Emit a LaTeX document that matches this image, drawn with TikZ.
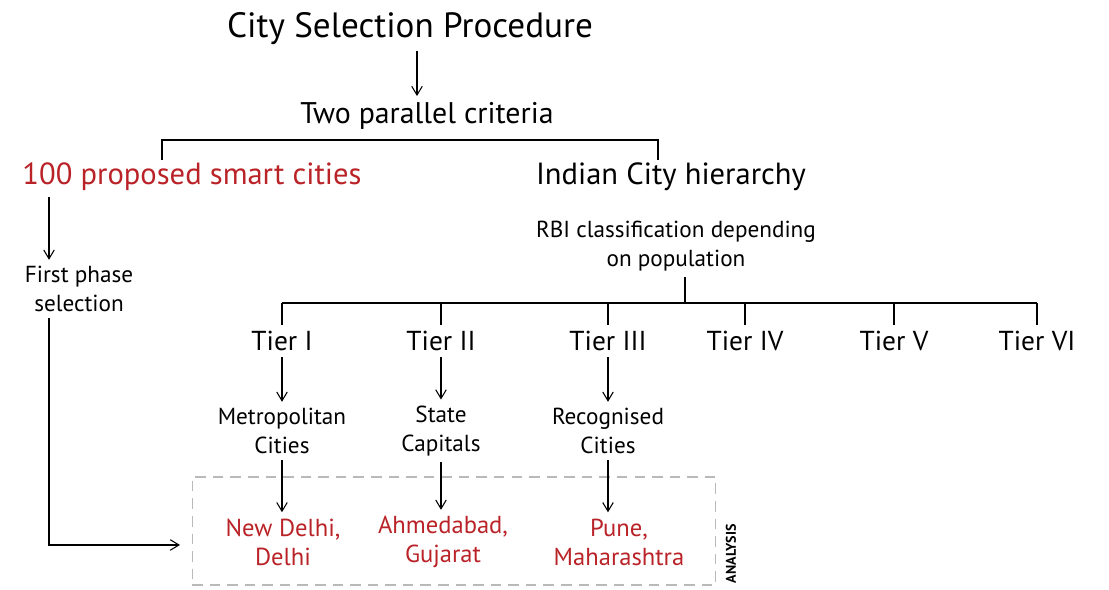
\documentclass[tikz,border=0pt]{standalone}
\usepackage{fontspec}
\setmainfont{PT Sans}
\usetikzlibrary{arrows.meta}
\definecolor{cityred}{RGB}{185,35,40}

\tikzset{
	headline/.style={font=\fontsize{20}{24}\selectfont},
	criterion/.style={font=\fontsize{17}{20}\selectfont},
	branch/.style={font=\fontsize{17.4}{21}\selectfont},
	tier/.style={font=\fontsize{15.6}{19}\selectfont},
	note/.style={font=\fontsize{13.2}{16.5}\selectfont, align=center},
	city/.style={align=center, font=\fontsize{14}{16.5}\selectfont, text=cityred},
	link/.style={-{Straight Barb[length=5pt,width=6pt]}, line width=0.6pt},
	analysisbox/.style={draw=gray!55, dashed, dash pattern=on 6pt off 4pt, line width=0.6pt}
}

\begin{document}
\begin{tikzpicture}[x=0.02cm, y=-0.02cm, line width=0.6pt]
			\useasboundingbox (0,0) rectangle (1109,590);

			\coordinate (lane) at (49,0);
			\coordinate (entry) at (180,545);

			\node[headline] (procedure) at (410,29) {City Selection Procedure};
			\node[criterion] (criteria) at (427,116) {Two parallel criteria};
			\node[branch, text=cityred] (smart) at (192,177) {100 proposed smart cities};
			\node[branch] (hierarchy) at (671,177) {Indian City hierarchy};
			\node[note] (first) at (79,289) {First phase\\selection};
			\node[note] (rbi) at (676,246) {RBI classification depending\\on population};

			\draw[link] (procedure.south -| 417,0) -- (criteria.north -| 417,0);

			\draw (162,160) |- (658,140) -- (658,160);

			\foreach \x/\t [count=\i] in {282/I, 441/II, 608/III, 745/IV, 894/V, 1037/VI}
			{
				\node[tier] (tier\i) at (\x,341) {Tier \t};
				\draw (tier\i.north) -- (\x,303);
			}
			\draw (tier1.north |- 0,303) -- (tier6.north |- 0,303);
			\draw (rbi.south -| 685,0) -- (685,303);

			\node[note] (metro) at (282,431) {Metropolitan\\Cities};
			\node[note] (capitals) at (441,431) {State\\Capitals};
			\node[note] (recognised) at (608,431) {Recognised\\Cities};

			\node[analysisbox, minimum width=10.48cm, minimum height=2.16cm] (box) at (454,531) {};
			\node[font=\fontsize{8}{9}\selectfont\bfseries, rotate=90, anchor=north west, inner sep=1pt] (analysis) at ([xshift=0.14cm]box.south east) {ANALYSIS};

			\node[city] (delhi) at (283,542) {New Delhi,\\Delhi};
			\node[city] (gujarat) at (443,542) {Ahmedabad,\\Gujarat};
			\node[city] (pune) at (619,542) {Pune,\\Maharashtra};

			\begin{scope}[link]
				\draw (smart.south -| lane) -- (first.north -| lane);
				\draw (first.south -| lane) |- (entry);
				\draw (tier1) -- (metro);
				\draw (tier2) -- (capitals);
				\draw (tier3) -- (recognised);
				\draw (metro) -- (delhi.north -| metro);
				\draw (capitals) -- (gujarat.north -| capitals);
				\draw (recognised) -- (pune.north -| recognised);
			\end{scope}
		\end{tikzpicture}
\end{document}
